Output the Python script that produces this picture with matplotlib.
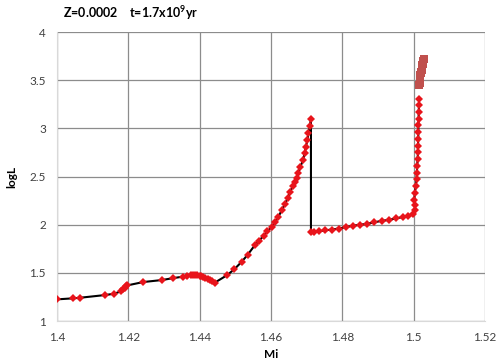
import matplotlib
matplotlib.use("Agg")
import matplotlib.pyplot as plt

plt.rcParams['font.family'] = ['Lato', 'DejaVu Sans']
plt.rcParams['mathtext.fontset'] = 'custom'
plt.rcParams['mathtext.bf'] = 'Lato:bold'

# main track (Mi, logL)
mi = [1.4000, 1.4046, 1.4065, 1.4135, 1.4161, 1.4180, 1.4186, 1.4190, 1.4194, 1.4197,
      1.4242, 1.4295, 1.4326, 1.4352, 1.4364, 1.4375, 1.4381, 1.4387, 1.4393, 1.4400,
      1.4405, 1.4410, 1.4416, 1.4422, 1.4428, 1.4434, 1.4443, 1.4476, 1.4497, 1.4518,
      1.4535, 1.4555, 1.4567, 1.4579, 1.4590, 1.4602, 1.4612, 1.4621, 1.4630, 1.4640,
      1.4647, 1.4654, 1.4661, 1.4668, 1.4672, 1.4677, 1.4682, 1.4690, 1.4694, 1.4698,
      1.4702, 1.4705, 1.4709, 1.4712, 1.4712, 1.4720, 1.4735, 1.4750, 1.4770, 1.4790,
      1.4810, 1.4830, 1.4850, 1.4870, 1.4890, 1.4910, 1.4930, 1.4950, 1.4970, 1.4985,
      1.4999, 1.5003, 1.5004, 1.5002, 1.5003, 1.5006, 1.5008, 1.5009, 1.5010, 1.5011,
      1.5012, 1.5012, 1.5013, 1.5013, 1.5013, 1.5014, 1.5014, 1.5015, 1.5015]
logL = [1.225, 1.236, 1.242, 1.270, 1.284, 1.310, 1.330, 1.345, 1.363, 1.370,
        1.405, 1.426, 1.446, 1.460, 1.470, 1.474, 1.475, 1.474, 1.473, 1.470,
        1.464, 1.457, 1.447, 1.436, 1.425, 1.415, 1.400, 1.474, 1.537, 1.616,
        1.690, 1.789, 1.836, 1.883, 1.930, 1.980, 2.030, 2.083, 2.150, 2.220,
        2.280, 2.343, 2.400, 2.447, 2.480, 2.540, 2.600, 2.670, 2.740, 2.810,
        2.880, 2.950, 3.020, 3.094, 1.927, 1.928, 1.932, 1.940, 1.950, 1.960,
        1.975, 1.990, 2.000, 2.010, 2.025, 2.040, 2.050, 2.065, 2.080, 2.090,
        2.110, 2.150, 2.200, 2.260, 2.330, 2.400, 2.470, 2.540, 2.610, 2.680,
        2.750, 2.820, 2.890, 2.960, 3.030, 3.100, 3.170, 3.240, 3.310]

# late points (square markers)
mi_late = [1.5016, 1.5017, 1.5017, 1.5018, 1.5019, 1.5019, 1.5020, 1.5021, 1.5022,
           1.5022, 1.5023, 1.5024, 1.5025, 1.5025, 1.5026, 1.5027, 1.5028]
logL_late = [3.45, 3.47, 3.49, 3.51, 3.53, 3.55, 3.57, 3.59, 3.61,
             3.63, 3.64, 3.66, 3.67, 3.68, 3.69, 3.70, 3.72]

fig = plt.figure(figsize=(5, 3.64), dpi=100)
ax = fig.add_axes([0.114, 0.118, 0.856, 0.794])

ax.plot(mi, logL, color='black', linewidth=1.5, zorder=2)
ax.plot(mi, logL, linestyle='none', marker='D', markersize=3.8,
        color='#e8141b', markeredgewidth=0, zorder=3)
ax.plot(mi_late, logL_late, linestyle='none', marker='s', markersize=5.5,
        color='#c0504d', markeredgewidth=0, zorder=3)

ax.set_xlim(1.4, 1.52)
ax.set_ylim(1, 4)
ax.set_xticks([1.4, 1.42, 1.44, 1.46, 1.48, 1.5, 1.52])
ax.set_xticklabels(['1.4', '1.42', '1.44', '1.46', '1.48', '1.5', '1.52'])
ax.set_yticks([1, 1.5, 2, 2.5, 3, 3.5, 4])
ax.set_yticklabels(['1', '1.5', '2', '2.5', '3', '3.5', '4'])
ax.grid(color='#8c8c8c', linewidth=0.9)
ax.set_axisbelow(True)
for s in ax.spines.values():
    s.set_visible(False)
ax.spines['bottom'].set_visible(True)
ax.spines['bottom'].set_color('#d9d9d9')
ax.spines['left'].set_visible(True)
ax.spines['left'].set_color('#d9d9d9')
ax.tick_params(length=0, labelsize=8.5, colors='#404040', pad=8)

ax.set_xlabel('Mi', fontsize=8.5, fontweight='bold', labelpad=4)
ax.set_ylabel('logL', fontsize=8.5, fontweight='bold', labelpad=9)
fig.text(0.126, 0.965, r'Z=0.0002    t=1.7x10$^{\mathbf{9}}$yr', fontsize=9,
         fontweight='bold', va='center', ha='left')

fig.savefig('out.png', dpi=100)
